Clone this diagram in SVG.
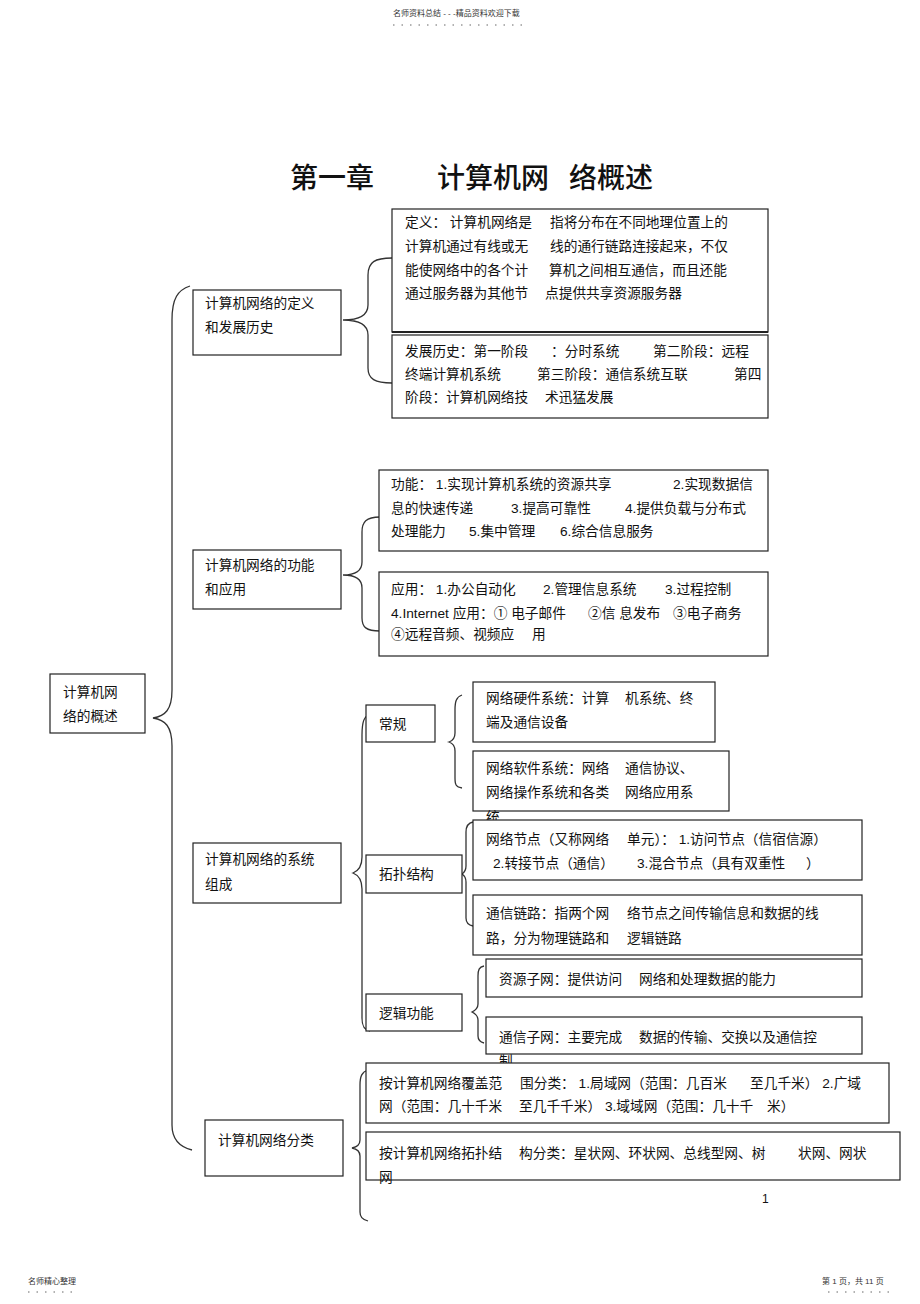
<svg xmlns="http://www.w3.org/2000/svg" width="920" height="1304" viewBox="0 0 920 1304">
<style>
text{font-family:"Liberation Sans","Noto Sans CJK SC",sans-serif;fill:#111;}
.t{font-size:13.7px;}
.s{font-size:8px;fill:#333;}
.title{font-size:28px;font-weight:500;}
.box{fill:#fff;stroke:#222;stroke-width:1.2;}
.br{fill:none;stroke:#333;stroke-width:1.3;}
.dot{stroke:#666;stroke-width:1;stroke-dasharray:1.5 7;}
</style>
<rect width="920" height="1304" fill="#fff"/>
<g id="header">
<text class="s" x="393" y="16">名师资料总结 - - -精品资料欢迎下载</text>
<line class="dot" x1="393" y1="25" x2="528" y2="25"/>
</g>
<g id="title">
<text class="title" x="290" y="188">第一章</text>
<text class="title" x="437" y="188">计算机网</text>
<text class="title" x="569" y="188">络概述</text>
</g>
<g id="connectors">
<path class="br" d="M190,286 C178,290 172,298 172,320 L172,690 C172,710 165,716 153,718 C165,720 172,726 172,746 L172,1125 C172,1140 180,1147 192,1150"/>
<path class="br" d="M392,258 C375,258 368,262 368,275 L368,305 C368,316 358,320 343,320 C358,320 368,324 368,335 L368,368 C368,379 375,383 392,383"/>
<path class="br" d="M380,517 C366,517 362,522 362,532 L362,562 C362,571 355,575 343,575 C355,575 362,579 362,588 L362,618 C362,627 366,631 380,631"/>
<path class="br" d="M370,714 C364,716 362,722 362,735 L362,857 C362,867 358,871 353,873 C358,875 362,879 362,889 L362,1018 C362,1026 364,1030 370,1031"/>
<path class="br" d="M462,695 C456,697 455,702 455,710 L455,733 C455,738 452,741 449,742 C452,743 455,746 455,751 L455,778 C455,785 456,787 462,788"/>
<path class="br" d="M473,822 C468,823 466,826 466,832 L466,866 C466,870 465,872 462,874 C465,876 466,878 466,882 L466,918 C466,923 468,925 473,926"/>
<path class="br" d="M484,966 C479,967 478,970 478,976 L478,1004 C478,1008 476,1010 472,1012 C476,1014 478,1016 478,1020 L478,1036 C478,1040 480,1042 484,1043"/>
<path class="br" d="M368,1070 C362,1072 360,1076 360,1085 L360,1140 C360,1145 357,1147 352,1148 C357,1149 360,1151 360,1156 L360,1212 C360,1217 362,1219 368,1221"/>
</g>
<g id="root">
<rect class="box" x="50" y="674" width="95" height="59"/>
<text class="t" x="63" y="697">计算机网</text>
<text class="t" x="63" y="721">络的概述</text>
</g>
<g id="n1">
<rect class="box" x="193" y="290" width="148" height="65"/>
<text class="t" x="205" y="308">计算机网络的定义</text>
<text class="t" x="205" y="332">和发展历史</text>
</g>
<g id="n1-def">
<rect class="box" x="392" y="209" width="376" height="123"/>
<line x1="392" y1="332" x2="768" y2="332" stroke="#222" stroke-width="2.2"/>
<text class="t" y="227"><tspan x="405">定义： 计算机网络是</tspan><tspan x="550">指将分布在不同地理位置上的</tspan></text>
<text class="t" y="251"><tspan x="405">计算机通过有线或无</tspan><tspan x="550">线的通行链路连接起来，不仅</tspan></text>
<text class="t" y="275"><tspan x="405">能使网络中的各个计</tspan><tspan x="549">算机之间相互通信，而且还能</tspan></text>
<text class="t" y="298"><tspan x="405">通过服务器为其他节</tspan><tspan x="545">点提供共享资源服务器</tspan></text>
</g>
<g id="n1-hist">
<rect class="box" x="392" y="335" width="376" height="83"/>
<text class="t" y="356"><tspan x="405">发展历史：第一阶段</tspan><tspan x="551">：分时系统</tspan><tspan x="653">第二阶段：远程</tspan></text>
<text class="t" y="379"><tspan x="405">终端计算机系统</tspan><tspan x="537">第三阶段：通信系统互联</tspan><tspan x="734">第四</tspan></text>
<text class="t" y="402"><tspan x="405">阶段：计算机网络技</tspan><tspan x="545">术迅猛发展</tspan></text>
</g>
<g id="n2">
<rect class="box" x="193" y="550" width="148" height="59"/>
<text class="t" x="205" y="570">计算机网络的功能</text>
<text class="t" x="205" y="594">和应用</text>
</g>
<g id="n2-func">
<rect class="box" x="379" y="470" width="389" height="81"/>
<text class="t" y="489"><tspan x="391">功能： 1.实现计算机系统的资源共享</tspan><tspan x="673">2.实现数据信</tspan></text>
<text class="t" y="513"><tspan x="391">息的快速传递</tspan><tspan x="511">3.提高可靠性</tspan><tspan x="625">4.提供负载与分布式</tspan></text>
<text class="t" y="536"><tspan x="391">处理能力</tspan><tspan x="469">5.集中管理</tspan><tspan x="560">6.综合信息服务</tspan></text>
</g>
<g id="n2-app">
<rect class="box" x="379" y="572" width="389" height="84"/>
<text class="t" y="594"><tspan x="391">应用： 1.办公自动化</tspan><tspan x="543">2.管理信息系统</tspan><tspan x="665">3.过程控制</tspan></text>
<text class="t" y="618"><tspan x="391">4.Internet 应用：① 电子邮件</tspan><tspan x="588">②信 息发布</tspan><tspan x="673">③电子商务</tspan></text>
<text class="t" y="639"><tspan x="391">④远程音频、视频应</tspan><tspan x="532">用</tspan></text>
</g>
<g id="n3">
<rect class="box" x="193" y="843" width="148" height="60"/>
<text class="t" x="205" y="864">计算机网络的系统</text>
<text class="t" x="205" y="889">组成</text>
</g>
<g id="n3-general">
<rect class="box" x="366" y="705" width="69" height="37"/>
<text class="t" x="379" y="729">常规</text>
</g>
<g id="n3-hw">
<rect class="box" x="473" y="682" width="242" height="60"/>
<text class="t" y="703"><tspan x="486">网络硬件系统：计算</tspan><tspan x="625">机系统、终</tspan></text>
<text class="t" x="486" y="727">端及通信设备</text>
</g>
<g id="n3-sw">
<rect class="box" x="473" y="751" width="256" height="60"/>
<text class="t" y="773"><tspan x="486">网络软件系统：网络</tspan><tspan x="625">通信协议、</tspan></text>
<text class="t" y="797"><tspan x="486">网络操作系统和各类</tspan><tspan x="625">网络应用系</tspan></text>
<text class="t" x="486" y="822">统</text>
</g>
<g id="n3-topo">
<rect class="box" x="366" y="855" width="96" height="38"/>
<text class="t" x="379" y="879">拓扑结构</text>
</g>
<g id="n3-node">
<rect class="box" x="473" y="820" width="389" height="60"/>
<text class="t" y="844"><tspan x="486">网络节点（又称网络</tspan><tspan x="627">单元）： 1.访问节点（信宿信源）</tspan></text>
<text class="t" y="868"><tspan x="493">2.转接节点（通信）</tspan><tspan x="637">3.混合节点（具有双重性</tspan><tspan x="806">）</tspan></text>
</g>
<g id="n3-link">
<rect class="box" x="473" y="895" width="389" height="60"/>
<text class="t" y="918"><tspan x="486">通信链路：指两个网</tspan><tspan x="627">络节点之间传输信息和数据的线</tspan></text>
<text class="t" y="943"><tspan x="486">路，分为物理链路和</tspan><tspan x="627">逻辑链路</tspan></text>
</g>
<g id="n3-logic">
<rect class="box" x="366" y="994" width="96" height="37"/>
<text class="t" x="379" y="1018">逻辑功能</text>
</g>
<g id="n3-res">
<rect class="box" x="486" y="959" width="376" height="38"/>
<text class="t" y="984"><tspan x="499">资源子网：提供访问</tspan><tspan x="639">网络和处理数据的能力</tspan></text>
</g>
<g id="n3-comm">
<rect class="box" x="486" y="1017" width="376" height="37"/>
<text class="t" y="1042"><tspan x="499">通信子网：主要完成</tspan><tspan x="639">数据的传输、交换以及通信控</tspan></text>
<text class="t" x="499" y="1066">制</text>
</g>
<g id="n4">
<rect class="box" x="205" y="1120" width="138" height="56"/>
<text class="t" x="218" y="1145">计算机网络分类</text>
</g>
<g id="n4-scope">
<rect class="box" x="366" y="1063" width="523" height="60"/>
<text class="t" y="1088"><tspan x="379">按计算机网络覆盖范</tspan><tspan x="520">围分类： 1.局域网（范围：几百米</tspan><tspan x="750">至几千米） 2.广域</tspan></text>
<text class="t" y="1111"><tspan x="379">网（范围：几十千米</tspan><tspan x="519">至几千千米） 3.域域网（范围：几十千</tspan><tspan x="767">米）</tspan></text>
</g>
<g id="n4-topo">
<rect class="box" x="366" y="1132" width="534" height="48"/>
<text class="t" y="1158"><tspan x="379">按计算机网络拓扑结</tspan><tspan x="519">构分类：星状网、环状网、总线型网、树</tspan><tspan x="798">状网、网状</tspan></text>
<text class="t" x="379" y="1182">网</text>
</g>
<g id="footer">
<text class="t" x="762" y="1203" style="font-size:12px">1</text>
<text class="s" x="28" y="1284">名师精心整理</text>
<line class="dot" x1="28" y1="1292" x2="78" y2="1292"/>
<text class="s" x="822" y="1284">第 1 页，共 11 页</text>
<line class="dot" x1="828" y1="1292" x2="893" y2="1292"/>
</g>
</svg>
